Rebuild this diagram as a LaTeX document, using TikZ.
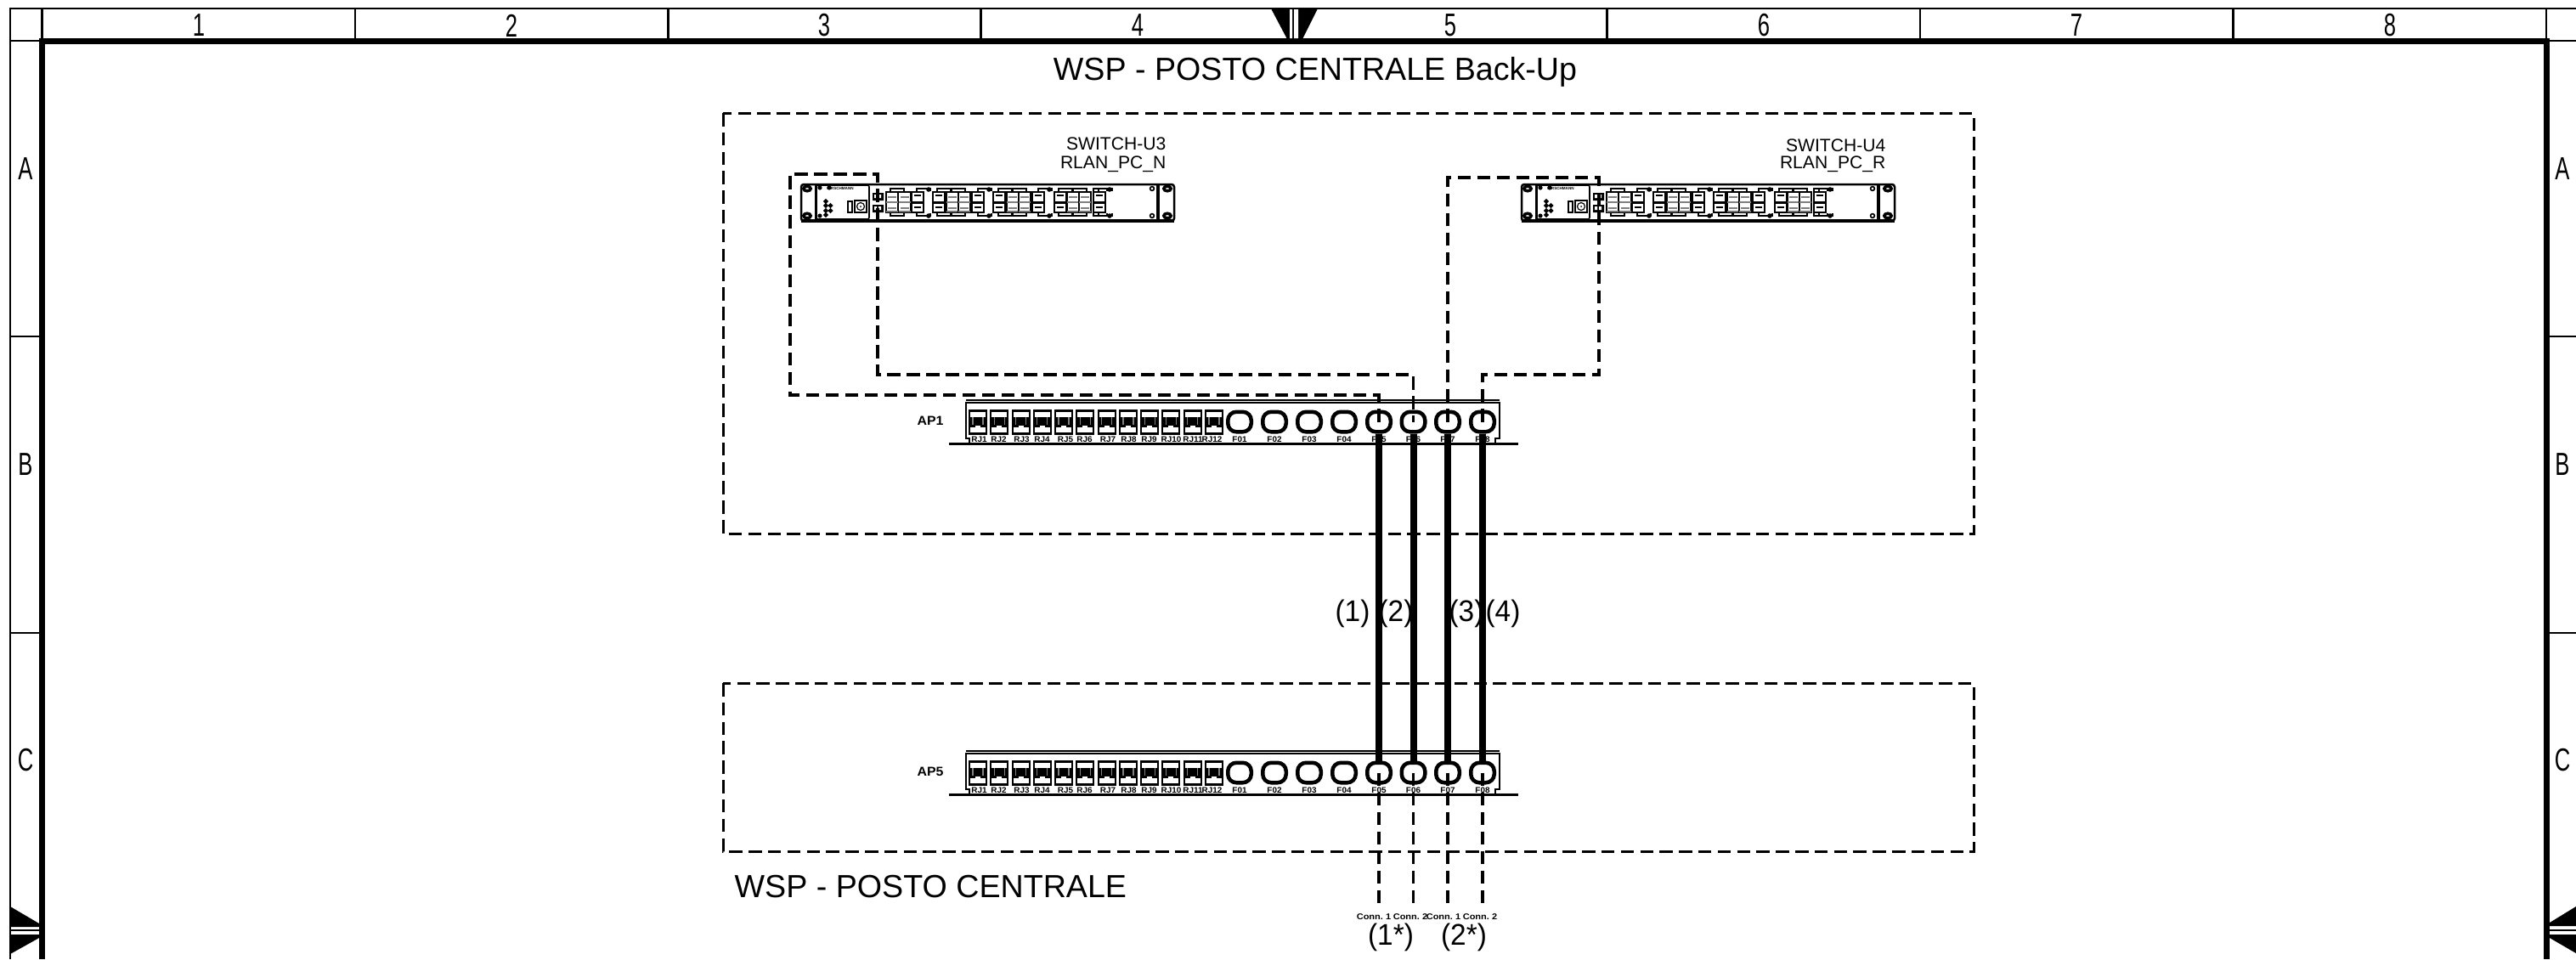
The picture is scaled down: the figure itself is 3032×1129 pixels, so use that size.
\documentclass[tikz,border=0pt]{standalone}
\usepackage{fontspec}
\setmainfont{Liberation Sans}
\newcommand{\fsz}[1]{\fontsize{#1}{#1}\selectfont}
\tikzset{
  x=0.01cm,y=-0.01cm,
  thin line/.style={line width=.028cm},
  frame line/.style={line width=.07cm},
  hair/.style={line width=.012cm},
  dashline/.style={line width=.035cm,dash pattern=on .155cm off .075cm},
  boxdash/.style={line width=.03cm,dash pattern=on .155cm off .073cm},
  fibre/.style={line width=.08cm},
  gridtext/.style={font=\fsz{10.7},xscale=.68,inner sep=0},
  title/.style={font=\fsz{10.7},inner sep=0},
  swtext/.style={font=\fsz{6},inner sep=0,anchor=east},
  tinybold/.style={font=\fsz{2.7}\bfseries,inner sep=0,xscale=1.05},
  aplabel/.style={font=\fsz{4.3}\bfseries,inner sep=0,xscale=1.05},
  connlabel/.style={font=\fsz{2.8}\bfseries,inner sep=0,xscale=1.12},
  numlabel/.style={font=\fsz{10},inner sep=0,xscale=.95},
  fport/.style={draw,line width=.045cm,rounded corners=.1cm,minimum width=.275cm,minimum height=.235cm,inner sep=0},
}
% one RJ45 socket
\newcommand{\rjport}[1]{%
  \fill[black] (#1,482) rectangle ++(22,30);
  \fill[white] (#1+2,484.5) rectangle ++(18,6);
  \fill[white] (#1+2,503) rectangle ++(18,5.5);
  \fill[white] (#1+8,501) rectangle ++(6,3);
  \draw[hair,gray] (#1+5,491) -- ++(0,9) (#1+17,491) -- ++(0,9);
}
% patch panel; #1 name prefix, #2 vertical shift, #3 label
\newcommand{\appanel}[3]{%
  \begin{scope}[shift={(0,#2)}]
    \draw[thin line] (1137,473) -- (1137,516) -- (1141,516) -- (1141,521);
    \draw[thin line] (1765,473) -- (1765,516) -- (1760,516) -- (1760,521);
    \draw[thin line] (1137,471) -- (1765,471) (1137,474) -- (1765,474);
    \draw[line width=.035cm] (1117,522.5) -- (1787,522.5);
    \node[aplabel] (#1label) at (1095,495) {#3};
    \foreach \i [evaluate=\i as \xx using {1140+(\i-1)*25.27}] in {1,...,12} {\rjport{\xx}}
    \foreach \t/\x in {RJ1/1152.5,RJ2/1175.5,RJ3/1202.5,RJ4/1226.5,RJ5/1254,RJ6/1276.5,RJ7/1304,RJ8/1328.5,RJ9/1352.5,RJ10/1378.5,RJ11/1404,RJ12/1426.5}
      \node[tinybold] (#1\t) at (\x,517.5) {\t};
    \foreach \n/\x in {F01/1459,F02/1500,F03/1541,F04/1582,F05/1623,F06/1663.5,F07/1704,F08/1745} {
      \node[fport] (#1\n) at (\x,496.5) {};
      \node[tinybold] (#1\n t) at (\x,517.5) {\n};
    }
  \end{scope}
}
% switch; drawn in local pixels
\newcommand{\swbox}[1]{%
  \draw[line width=.02cm] (#1,9) rectangle ++(14,12) (#1,22) rectangle ++(14,11);
  \draw[hair] (#1+3,13) -- ++(8,0) (#1+3,27) -- ++(8,0);
}
\newcommand{\swrj}[1]{%
  \draw[line width=.016cm,black] (#1,9) rectangle ++(14,24);
  \draw[hair,gray] (#1,21) -- ++(14,0) (#1+2,15) -- ++(10,0) (#1+2,28) -- ++(10,0);
  \fill[black!55] (#1,31) rectangle ++(14,2);
}
\newcommand{\switchunit}[3]{%
  \begin{scope}[shift={(#1,#2)}]
    \draw[line width=.025cm,rounded corners=.03cm] (0,0) rectangle (439,43);
    \draw[line width=.035cm] (0,43) -- (439,43);
    \draw[hair] (17,0) -- (17,43) (419,0) -- (419,43) (421,0) -- (421,43);
    \draw[line width=.016cm,rounded corners=.02cm] (18,1) rectangle (80,41);
    \foreach \xx/\yy in {7/5,7/37,431/5,431/37}
      \draw[line width=.035cm] (\xx,\yy) ellipse (4.2 and 2.8);
    \foreach \xx/\yy in {22/4,33/4,22/37}
      \fill (\xx,\yy) circle (2.6);
    \node[font=\fsz{1.3}\bfseries,inner sep=0] (#3brand) at (46,5) {HIRSCHMANN};
    \foreach \xx/\yy in {29/20,29/25,34.5/25,29/31,34.5/31,29/36}
      \draw[line width=.02cm] (\xx,\yy) circle (1.7);
    \draw[line width=.02cm] (55,20) rectangle (60,33);
    \draw[line width=.025cm] (63,19) rectangle (77,33);
    \draw[hair] (70,26) circle (4.5);
    \fill (70,26) circle (1);
    \fill (84,10) rectangle (97,19) (84,24) rectangle (97,33);
    \fill[white] (86,12) rectangle ++(3,4) (91,12) rectangle ++(3,4) (86,26) rectangle ++(3,4) (91,26) rectangle ++(3,4);
    \foreach \xx in {100,114.5} {\swrj{\xx}}
    \swbox{130}
    \swbox{155}
    \foreach \xx in {171,185} {\swrj{\xx}}
    \swbox{201}
    \swbox{226}
    \foreach \xx in {242,256} {\swrj{\xx}}
    \swbox{272}
    \swbox{298}
    \foreach \xx in {313,327} {\swrj{\xx}}
    \swbox{344}
    \foreach \xx in {150,221,292,363} {\fill (\xx,6) circle (2.8); \fill (\xx,37) circle (2.8);}
    \draw[line width=.016cm] (413,5) circle (2.4) (413,37) circle (2.4);
    \foreach \xx in {105,136,160,177,208,232,249,279,303,320,350,344} {
      \draw[hair] (\xx,8) -- ++(0,-3) -- ++(16,0) -- ++(0,3);
      \draw[hair] (\xx,34) -- ++(0,3) -- ++(16,0) -- ++(0,-3);
    }
  \end{scope}
}
\begin{document}
\begin{tikzpicture}
\useasboundingbox (0,0) rectangle (3032,1129);
\fill[white] (0,0) rectangle (3032,1129);
% sheet frame
\draw[thin line] (3032,10) -- (12,10) -- (12,1129);
\foreach \yy in {48,396,745} {
  \draw[thin line] (12,\yy) -- (46,\yy);
  \draw[thin line] (3001,\yy) -- (3032,\yy);
}
\foreach \xx in {49.5,418,786.4,1154.8,1891.6,2260,2628.4,2997}
  \draw[thin line] (\xx,10) -- (\xx,46);
\draw[frame line] (49.5,1129) -- (49.5,48) -- (2997,48) -- (2997,1129);
\foreach \t/\xx in {1/234,2/602,3/970,4/1339,5/1707,6/2076,7/2444,8/2813}
  \node[gridtext] (col\t) at (\xx,30) {\t};
\foreach \t/\yy in {A/199,B/547,C/895} {
  \node[gridtext] (rowL\t) at (30,\yy) {\t};
  \node[gridtext] (rowR\t) at (3016,\yy) {\t};
}
% centring marks
\fill (1496,10) -- (1551,10) -- (1533,46) -- (1515,46) -- cycle;
\fill[white] (1518,11) rectangle (1521,45) (1523,11) rectangle (1528,45);
\fill (12,1067) -- (46,1087) -- (46,1091) -- (12,1091) -- cycle;
\fill (12,1123) -- (46,1104) -- (46,1100) -- (12,1100) -- cycle;
\draw[line width=.02cm] (12,1095) -- (46,1095);
\fill (3032,1067) -- (3001,1086) -- (3001,1090) -- (3032,1090) -- cycle;
\fill (3032,1122) -- (3001,1104) -- (3001,1100) -- (3032,1100) -- cycle;
\draw[line width=.02cm] (3001,1095) -- (3032,1095);
% titles
\node[title] (titleTop) at (1548,85) {WSP - POSTO CENTRALE Back-Up};
\node[title,anchor=west] (titleBot) at (864,1044) {WSP - POSTO CENTRALE};
% dashed rooms
\draw[boxdash] (851,133) rectangle (2323,628);
\draw[boxdash] (851,804) rectangle (2323,1002);
% switches
\switchunit{943}{217}{swA}
\switchunit{1791}{217}{swB}
\node[swtext] (swAname) at (1373,169) {SWITCH-U3};
\node[swtext] (swAnet) at (1373,193) {RLAN\_PC\_N};
\node[swtext] (swBname) at (2220,171) {SWITCH-U4};
\node[swtext] (swBnet) at (2220,193) {RLAN\_PC\_R};
% panels
\appanel{apA}{0}{AP1}
\appanel{apE}{413}{AP5}
% patch cords
\coordinate (cA1) at (930,205);
\coordinate (cA2) at (1033,205);
\coordinate (cA3) at (1033,441);
\coordinate (cB1) at (1882,209);
\coordinate (cB2) at (1882,441);
\draw[dashline] (apAF05.center) |- (930,465) -- (cA1) -- (cA2) -- (cA3) -| (apAF06.center);
\draw[dashline] (apAF07.center) |- (cB1) -- (cB2) -| (apAF08.center);
% fibre links
\foreach \n in {F05,F06,F07,F08}
  \draw[fibre] (apA\n.south) -- (apE\n.north);
% labels of the links
\foreach \t/\xx in {1/1592,2/1643,3/1726,4/1769}
  \node[numlabel] (link\t) at (\xx,722) {(\t)};
% outgoing conductors
\coordinate (endA) at (1623,1067);
\coordinate (endB) at (1663.5,1067);
\coordinate (endC) at (1704,1067);
\coordinate (endD) at (1745,1067);
\draw[dashline] (apEF05.center) -- (endA);
\draw[dashline] (apEF06.center) -- (endB);
\draw[dashline] (apEF07.center) -- (endC);
\draw[dashline] (apEF08.center) -- (endD);
\node[connlabel] (connA) at (1617,1079) {Conn.\ 1};
\node[connlabel] (connB) at (1660,1079) {Conn.\ 2};
\node[connlabel] (connC) at (1699,1079) {Conn.\ 1};
\node[connlabel] (connD) at (1742,1079) {Conn.\ 2};
\node[numlabel] (pairA) at (1637,1103) {(1*)};
\node[numlabel] (pairB) at (1723,1103) {(2*)};
\end{tikzpicture}
\end{document}
